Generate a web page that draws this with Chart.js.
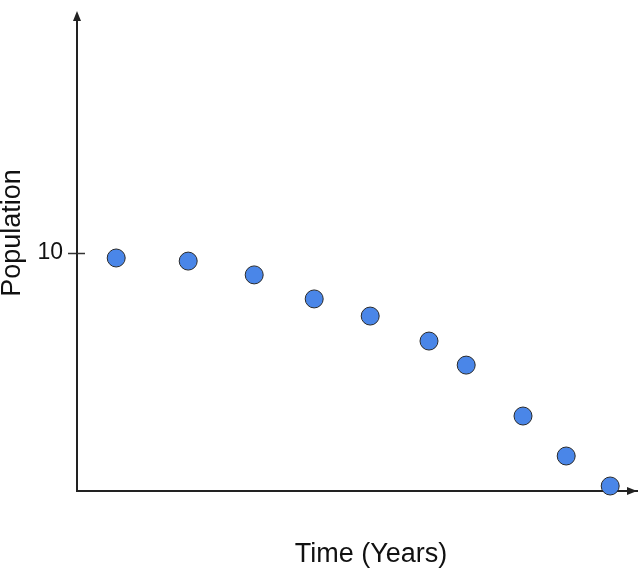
<!DOCTYPE html>
<html>
<head>
<meta charset="utf-8">
<script src="https://cdn.jsdelivr.net/npm/chart.js@4/dist/chart.umd.min.js"></script>
<style>
  html, body { margin: 0; padding: 0; background: #ffffff; }
  #wrap { width: 643px; height: 577px; }
</style>
</head>
<body>
<div id="wrap"><canvas id="c" width="643" height="577"></canvas></div>
<script>
// ---- data ----
const years = [0.98, 2.78, 4.43, 5.93, 7.33, 8.80, 9.73, 11.15, 12.23, 13.33];
const population = [9.79, 9.66, 9.08, 8.07, 7.35, 6.30, 5.29, 3.15, 1.47, 0.21];
const yTickValues = [10];
const xAxisTitle = 'Time (Years)';
const yAxisTitle = 'Population';

const points = years.map((x, i) => ({ x: x, y: population[i] }));
const FONT = '"Liberation Sans", Arial, sans-serif';
const AXIS_COLOR = '#222222';
const TICK_COLOR = '#333333';

const axisExtras = {
  id: 'axisExtras',
  afterDraw(chart) {
    const { ctx, chartArea: a, scales } = chart;
    ctx.save();
    ctx.fillStyle = AXIS_COLOR;
    // y arrowhead
    ctx.beginPath();
    ctx.moveTo(a.left, a.top - 4);
    ctx.lineTo(a.left - 4, a.top + 6);
    ctx.lineTo(a.left + 4, a.top + 6);
    ctx.closePath();
    ctx.fill();
    // x arrowhead
    ctx.beginPath();
    ctx.moveTo(a.right, a.bottom);
    ctx.lineTo(a.right - 10, a.bottom - 4);
    ctx.lineTo(a.right - 10, a.bottom + 4);
    ctx.closePath();
    ctx.fill();
    // tick mark extension inside the plot
    ctx.strokeStyle = TICK_COLOR;
    ctx.lineWidth = 1.5;
    yTickValues.forEach(v => {
      const py = Math.round(scales.y.getPixelForValue(v)) + 0.5;
      ctx.beginPath();
      ctx.moveTo(a.left, py);
      ctx.lineTo(a.left + 8, py);
      ctx.stroke();
    });
    // axis titles
    ctx.fillStyle = '#111111';
    ctx.font = '27px ' + FONT;
    ctx.textAlign = 'center';
    ctx.textBaseline = 'middle';
    ctx.fillText(xAxisTitle, 371, 555);
    ctx.save();
    ctx.translate(13, 233);
    ctx.rotate(-Math.PI / 2);
    ctx.fillText(yAxisTitle, 0, 0);
    ctx.restore();
    ctx.restore();
  }
};

new Chart(document.getElementById('c'), {
  type: 'scatter',
  data: {
    datasets: [{
      data: points,
      backgroundColor: '#4a86e8',
      borderColor: '#2a2a2a',
      borderWidth: 1,
      pointRadius: 9,
      pointHoverRadius: 9,
      clip: false
    }]
  },
  options: {
    responsive: false,
    animation: false,
    events: [],
    layout: { autoPadding: false, padding: { top: 15, right: 6, bottom: 0, left: 0 } },
    plugins: { legend: { display: false }, tooltip: { enabled: false } },
    scales: {
      x: {
        type: 'linear',
        min: 0,
        max: 14,
        afterFit(s) { s.height = 86; s.paddingLeft = 0; s.paddingRight = 0; },
        ticks: { display: false },
        grid: { display: true, drawOnChartArea: false, drawTicks: false },
        border: { display: true, color: AXIS_COLOR, width: 2 }
      },
      y: {
        type: 'linear',
        min: 0,
        max: 20,
        afterFit(s) { s.width = 77; s.paddingTop = 0; s.paddingBottom = 0; },
        afterBuildTicks(s) { s.ticks = yTickValues.map(v => ({ value: v })); },
        ticks: {
          color: '#111111',
          font: { family: FONT, size: 23 },
          padding: 5
        },
        grid: {
          display: true,
          drawOnChartArea: false,
          drawTicks: true,
          tickLength: 9,
          tickColor: TICK_COLOR,
          tickWidth: 1.5
        },
        border: { display: true, color: AXIS_COLOR, width: 2 }
      }
    }
  },
  plugins: [axisExtras]
});
</script>
</body>
</html>
